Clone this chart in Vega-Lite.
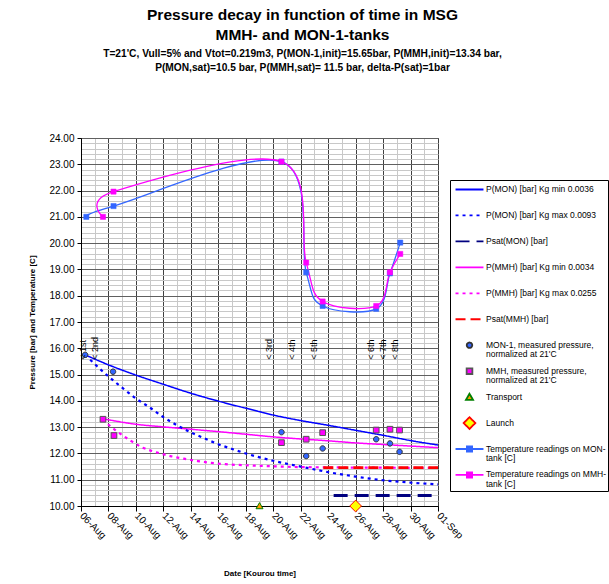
{
  "$schema": "https://vega.github.io/schema/vega-lite/v6.json",
  "width": 357,
  "height": 368,
  "autosize": "none",
  "padding": {"left": 81, "top": 138, "right": 171, "bottom": 78},
  "background": "white",
  "config": {
    "font": "Liberation Sans",
    "view": {"stroke": "#303030", "strokeWidth": 1},
    "axis": {"labelFont": "Liberation Sans", "titleFont": "Liberation Sans", "labelColor": "#000", "titleColor": "#000", "domainColor": "#000", "labelFontSize": 10}
  },
  "title": {
    "text": ["Pressure decay in function of time in MSG", "MMH- and MON-1-tanks"],
    "subtitle": ["T=21'C, Vull=5% and Vtot=0.219m3, P(MON-1,init)=15.65bar, P(MMH,init)=13.34 bar,", "P(MON,sat)=10.5 bar, P(MMH,sat)= 11.5 bar, delta-P(sat)=1bar"],
    "font": "Liberation Sans", "fontSize": 15.5, "fontWeight": "bold", "lineHeight": 20.5, "color": "#000",
    "subtitleFont": "Liberation Sans", "subtitleFontSize": 10.2, "subtitleFontWeight": "bold", "subtitleLineHeight": 14, "subtitleColor": "#000", "subtitlePadding": 5,
    "anchor": "middle", "dx": 43, "offset": 60
  },
  "datasets": {
    "pressure": [
      {"series": "P(MON) [bar] Kg min 0.0036", "date": "2002-08-06T07:12", "value": 15.75},
      {"series": "P(MON) [bar] Kg min 0.0036", "date": "2002-08-08T00:00", "value": 15.37},
      {"series": "P(MON) [bar] Kg min 0.0036", "date": "2002-08-10T00:00", "value": 14.98},
      {"series": "P(MON) [bar] Kg min 0.0036", "date": "2002-08-12T00:00", "value": 14.63},
      {"series": "P(MON) [bar] Kg min 0.0036", "date": "2002-08-14T00:00", "value": 14.29},
      {"series": "P(MON) [bar] Kg min 0.0036", "date": "2002-08-16T00:00", "value": 13.99},
      {"series": "P(MON) [bar] Kg min 0.0036", "date": "2002-08-18T00:00", "value": 13.72},
      {"series": "P(MON) [bar] Kg min 0.0036", "date": "2002-08-20T00:00", "value": 13.46},
      {"series": "P(MON) [bar] Kg min 0.0036", "date": "2002-08-22T00:00", "value": 13.25},
      {"series": "P(MON) [bar] Kg min 0.0036", "date": "2002-08-24T00:00", "value": 13.07},
      {"series": "P(MON) [bar] Kg min 0.0036", "date": "2002-08-26T00:00", "value": 12.88},
      {"series": "P(MON) [bar] Kg min 0.0036", "date": "2002-08-28T00:00", "value": 12.69},
      {"series": "P(MON) [bar] Kg min 0.0036", "date": "2002-08-30T00:00", "value": 12.49},
      {"series": "P(MON) [bar] Kg min 0.0036", "date": "2002-09-01T00:00", "value": 12.32},
      {"series": "P(MON) [bar] Kg max 0.0093", "date": "2002-08-06T07:12", "value": 15.75},
      {"series": "P(MON) [bar] Kg max 0.0093", "date": "2002-08-07T00:00", "value": 15.4},
      {"series": "P(MON) [bar] Kg max 0.0093", "date": "2002-08-08T00:00", "value": 14.93},
      {"series": "P(MON) [bar] Kg max 0.0093", "date": "2002-08-09T00:00", "value": 14.5},
      {"series": "P(MON) [bar] Kg max 0.0093", "date": "2002-08-10T00:00", "value": 14.09},
      {"series": "P(MON) [bar] Kg max 0.0093", "date": "2002-08-11T00:00", "value": 13.75},
      {"series": "P(MON) [bar] Kg max 0.0093", "date": "2002-08-12T00:00", "value": 13.38},
      {"series": "P(MON) [bar] Kg max 0.0093", "date": "2002-08-13T00:00", "value": 13.07},
      {"series": "P(MON) [bar] Kg max 0.0093", "date": "2002-08-14T00:00", "value": 12.8},
      {"series": "P(MON) [bar] Kg max 0.0093", "date": "2002-08-15T00:00", "value": 12.57},
      {"series": "P(MON) [bar] Kg max 0.0093", "date": "2002-08-16T00:00", "value": 12.35},
      {"series": "P(MON) [bar] Kg max 0.0093", "date": "2002-08-17T00:00", "value": 12.17},
      {"series": "P(MON) [bar] Kg max 0.0093", "date": "2002-08-18T00:00", "value": 12.0},
      {"series": "P(MON) [bar] Kg max 0.0093", "date": "2002-08-20T00:00", "value": 11.72},
      {"series": "P(MON) [bar] Kg max 0.0093", "date": "2002-08-22T00:00", "value": 11.5},
      {"series": "P(MON) [bar] Kg max 0.0093", "date": "2002-08-24T00:00", "value": 11.29},
      {"series": "P(MON) [bar] Kg max 0.0093", "date": "2002-08-26T00:00", "value": 11.12},
      {"series": "P(MON) [bar] Kg max 0.0093", "date": "2002-08-28T00:00", "value": 10.98},
      {"series": "P(MON) [bar] Kg max 0.0093", "date": "2002-08-30T00:00", "value": 10.89},
      {"series": "P(MON) [bar] Kg max 0.0093", "date": "2002-09-01T00:00", "value": 10.82},
      {"series": "Psat(MON) [bar]", "date": "2002-08-24T09:36", "value": 10.4},
      {"series": "Psat(MON) [bar]", "date": "2002-09-01T00:00", "value": 10.4},
      {"series": "P(MMH) [bar] Kg min 0.0034", "date": "2002-08-07T14:24", "value": 13.32},
      {"series": "P(MMH) [bar] Kg min 0.0034", "date": "2002-08-10T00:00", "value": 13.11},
      {"series": "P(MMH) [bar] Kg min 0.0034", "date": "2002-08-12T00:00", "value": 13.01},
      {"series": "P(MMH) [bar] Kg min 0.0034", "date": "2002-08-14T00:00", "value": 12.92},
      {"series": "P(MMH) [bar] Kg min 0.0034", "date": "2002-08-16T00:00", "value": 12.83},
      {"series": "P(MMH) [bar] Kg min 0.0034", "date": "2002-08-18T00:00", "value": 12.73},
      {"series": "P(MMH) [bar] Kg min 0.0034", "date": "2002-08-20T00:00", "value": 12.63},
      {"series": "P(MMH) [bar] Kg min 0.0034", "date": "2002-08-22T00:00", "value": 12.55},
      {"series": "P(MMH) [bar] Kg min 0.0034", "date": "2002-08-24T00:00", "value": 12.48},
      {"series": "P(MMH) [bar] Kg min 0.0034", "date": "2002-08-26T00:00", "value": 12.4},
      {"series": "P(MMH) [bar] Kg min 0.0034", "date": "2002-08-28T00:00", "value": 12.34},
      {"series": "P(MMH) [bar] Kg min 0.0034", "date": "2002-08-30T00:00", "value": 12.28},
      {"series": "P(MMH) [bar] Kg min 0.0034", "date": "2002-09-01T00:00", "value": 12.22},
      {"series": "P(MMH) [bar] Kg max 0.0255", "date": "2002-08-07T14:24", "value": 13.3},
      {"series": "P(MMH) [bar] Kg max 0.0255", "date": "2002-08-08T02:24", "value": 13.05},
      {"series": "P(MMH) [bar] Kg max 0.0255", "date": "2002-08-08T14:24", "value": 12.85},
      {"series": "P(MMH) [bar] Kg max 0.0255", "date": "2002-08-09T14:24", "value": 12.49},
      {"series": "P(MMH) [bar] Kg max 0.0255", "date": "2002-08-10T12:00", "value": 12.22},
      {"series": "P(MMH) [bar] Kg max 0.0255", "date": "2002-08-11T12:00", "value": 12.04},
      {"series": "P(MMH) [bar] Kg max 0.0255", "date": "2002-08-12T12:00", "value": 11.9},
      {"series": "P(MMH) [bar] Kg max 0.0255", "date": "2002-08-13T12:00", "value": 11.8},
      {"series": "P(MMH) [bar] Kg max 0.0255", "date": "2002-08-14T12:00", "value": 11.71},
      {"series": "P(MMH) [bar] Kg max 0.0255", "date": "2002-08-15T12:00", "value": 11.64},
      {"series": "P(MMH) [bar] Kg max 0.0255", "date": "2002-08-16T12:00", "value": 11.59},
      {"series": "P(MMH) [bar] Kg max 0.0255", "date": "2002-08-18T00:00", "value": 11.55},
      {"series": "P(MMH) [bar] Kg max 0.0255", "date": "2002-08-20T00:00", "value": 11.51},
      {"series": "P(MMH) [bar] Kg max 0.0255", "date": "2002-08-22T00:00", "value": 11.48},
      {"series": "P(MMH) [bar] Kg max 0.0255", "date": "2002-08-24T00:00", "value": 11.47},
      {"series": "P(MMH) [bar] Kg max 0.0255", "date": "2002-08-26T00:00", "value": 11.46},
      {"series": "P(MMH) [bar] Kg max 0.0255", "date": "2002-08-28T00:00", "value": 11.46},
      {"series": "P(MMH) [bar] Kg max 0.0255", "date": "2002-08-30T00:00", "value": 11.45},
      {"series": "P(MMH) [bar] Kg max 0.0255", "date": "2002-09-01T00:00", "value": 11.45},
      {"series": "Psat(MMH) [bar]", "date": "2002-08-23T15:36", "value": 11.46},
      {"series": "Psat(MMH) [bar]", "date": "2002-09-01T00:00", "value": 11.46}
    ],
    "temps": [
      {"series": "Temperature readings on MON-|tank [C]", "date": "2002-08-06T09:20", "value": 21.0},
      {"series": "Temperature readings on MON-|tank [C]", "date": "2002-08-08T08:50", "value": 21.41},
      {"series": "Temperature readings on MON-|tank [C]", "date": "2002-08-20T14:24", "value": 23.1},
      {"series": "Temperature readings on MON-|tank [C]", "date": "2002-08-22T09:36", "value": 18.89},
      {"series": "Temperature readings on MON-|tank [C]", "date": "2002-08-23T14:24", "value": 17.61},
      {"series": "Temperature readings on MON-|tank [C]", "date": "2002-08-27T12:00", "value": 17.5},
      {"series": "Temperature readings on MON-|tank [C]", "date": "2002-08-28T12:00", "value": 18.85},
      {"series": "Temperature readings on MON-|tank [C]", "date": "2002-08-29T06:00", "value": 20.02},
      {"series": "Temperature readings on MMH-|tank [C]", "date": "2002-08-07T14:24", "value": 21.0},
      {"series": "Temperature readings on MMH-|tank [C]", "date": "2002-08-08T08:50", "value": 21.96},
      {"series": "Temperature readings on MMH-|tank [C]", "date": "2002-08-20T14:24", "value": 23.1},
      {"series": "Temperature readings on MMH-|tank [C]", "date": "2002-08-22T09:36", "value": 19.26},
      {"series": "Temperature readings on MMH-|tank [C]", "date": "2002-08-23T14:24", "value": 17.78},
      {"series": "Temperature readings on MMH-|tank [C]", "date": "2002-08-27T12:00", "value": 17.61},
      {"series": "Temperature readings on MMH-|tank [C]", "date": "2002-08-28T12:00", "value": 18.89},
      {"series": "Temperature readings on MMH-|tank [C]", "date": "2002-08-29T06:00", "value": 19.59}
    ],
    "points": [
      {"series": "MON-1, measured pressure,|normalized at 21'C", "date": "2002-08-06T07:12", "value": 15.75},
      {"series": "MON-1, measured pressure,|normalized at 21'C", "date": "2002-08-08T08:00", "value": 15.11},
      {"series": "MON-1, measured pressure,|normalized at 21'C", "date": "2002-08-20T14:24", "value": 12.81},
      {"series": "MON-1, measured pressure,|normalized at 21'C", "date": "2002-08-22T09:36", "value": 11.9},
      {"series": "MON-1, measured pressure,|normalized at 21'C", "date": "2002-08-23T14:24", "value": 12.19},
      {"series": "MON-1, measured pressure,|normalized at 21'C", "date": "2002-08-27T12:00", "value": 12.54},
      {"series": "MON-1, measured pressure,|normalized at 21'C", "date": "2002-08-28T12:00", "value": 12.38},
      {"series": "MON-1, measured pressure,|normalized at 21'C", "date": "2002-08-29T04:48", "value": 12.06},
      {"series": "MMH, measured pressure,|normalized at 21'C", "date": "2002-08-07T14:24", "value": 13.3},
      {"series": "MMH, measured pressure,|normalized at 21'C", "date": "2002-08-08T09:36", "value": 12.68},
      {"series": "MMH, measured pressure,|normalized at 21'C", "date": "2002-08-20T14:24", "value": 12.41},
      {"series": "MMH, measured pressure,|normalized at 21'C", "date": "2002-08-22T09:36", "value": 12.54},
      {"series": "MMH, measured pressure,|normalized at 21'C", "date": "2002-08-23T14:24", "value": 12.79},
      {"series": "MMH, measured pressure,|normalized at 21'C", "date": "2002-08-27T12:00", "value": 12.89},
      {"series": "MMH, measured pressure,|normalized at 21'C", "date": "2002-08-28T12:00", "value": 12.92},
      {"series": "MMH, measured pressure,|normalized at 21'C", "date": "2002-08-29T04:48", "value": 12.89},
      {"series": "Transport", "date": "2002-08-19T00:00", "value": 10.0},
      {"series": "Launch", "date": "2002-08-26T00:00", "value": 10.0}
    ],
    "notes": [
      {"label": "< 1st", "date": "2002-08-06T04:00", "value": 15.56},
      {"label": "< 2nd", "date": "2002-08-07T01:00", "value": 15.56},
      {"label": "< 3rd", "date": "2002-08-19T16:00", "value": 15.56},
      {"label": "< 4th", "date": "2002-08-21T09:36", "value": 15.56},
      {"label": "< 5th", "date": "2002-08-23T00:00", "value": 15.56},
      {"label": "< 6th", "date": "2002-08-27T03:22", "value": 15.56},
      {"label": "< 7th", "date": "2002-08-28T00:00", "value": 15.56},
      {"label": "< 8th", "date": "2002-08-28T21:36", "value": 15.56}
    ]
  },
  "encoding": {
    "x": {
      "field": "date", "type": "temporal",
      "scale": {"domain": [{"year": 2002, "month": 8, "date": 6}, {"year": 2002, "month": 9, "date": 1}], "nice": false},
      "axis": {
        "title": "Date [Kourou time]", "titleFontSize": 8, "titleFontWeight": "bold", "titlePadding": 29,
        "tickCount": {"interval": "day", "step": 1},
        "labelExpr": "round((datum.value - datetime(2002,7,6))/86400000) % 2 === 0 ? timeFormat(datum.value, '%d-%b') : ''",
        "labelAngle": 45, "labelAlign": "left", "labelBaseline": "middle", "labelPadding": 3, "labelFontSize": 10,
        "labelOverlap": false, "labelBound": false, "labelFlush": false,
        "grid": true,
        "gridColor": {"condition": {"test": "round((datum.value - datetime(2002,7,6))/86400000) % 2 === 0", "value": "#404040"}, "value": "#c8c8c8"},
        "tickColor": {"condition": {"test": "round((datum.value - datetime(2002,7,6))/86400000) % 2 === 0", "value": "#000000"}, "value": "transparent"},
        "tickSize": 5
      }
    },
    "y": {
      "field": "value", "type": "quantitative",
      "scale": {"domain": [10, 24], "nice": false, "zero": false},
      "axis": {
        "title": "Pressure [bar] and Temperature [C]", "titleFontSize": 8, "titleFontWeight": "bold", "titlePadding": 12,
        "tickCount": 70,
        "labelExpr": "abs(datum.value - round(datum.value)) < 0.001 ? format(datum.value, '.2f') : ''",
        "labelOverlap": false, "labelBound": false, "labelFlush": false, "labelPadding": 3, "labelFontSize": 10,
        "grid": true,
        "gridColor": {"condition": {"test": "abs(datum.value - round(datum.value)) < 0.001", "value": "#606060"}, "value": "#c8c8c8"},
        "tickColor": {"condition": {"test": "abs(datum.value - round(datum.value)) < 0.001", "value": "#000000"}, "value": "transparent"},
        "tickSize": 4
      }
    }
  },
  "layer": [
    {
      "data": {"name": "pressure"},
      "transform": [{"filter": {"field": "series", "oneOf": ["P(MON) [bar] Kg min 0.0036", "P(MMH) [bar] Kg min 0.0034"]}}],
      "mark": {"type": "line", "interpolate": "monotone", "strokeWidth": 1.5},
      "encoding": {
        "stroke": {
          "field": "series", "type": "nominal",
          "scale": {
            "domain": ["P(MON) [bar] Kg min 0.0036", "P(MON) [bar] Kg max 0.0093", "Psat(MON) [bar]", "P(MMH) [bar] Kg min 0.0034", "P(MMH) [bar] Kg max 0.0255", "Psat(MMH) [bar]", "MON-1, measured pressure,|normalized at 21'C", "MMH, measured pressure,|normalized at 21'C", "Transport", "Launch", "Temperature readings on MON-|tank [C]", "Temperature readings on MMH-|tank [C]"],
            "range": ["#0000FF", "#0000FF", "#000080", "#FF00FF", "#FF00FF", "#FF0000", "#333333", "#555555", "#008000", "#FF0000", "#3366FF", "#FF00FF"]
          },
          "legend": {
            "orient": "none", "legendX": 369, "legendY": 42, "title": null, "direction": "vertical", "columns": 1,
            "padding": 2, "strokeColor": "#000000", "fillColor": "#ffffff",
            "symbolSize": 169, "symbolStrokeWidth": 1.8, "symbolOffset": 10,
            "labelFont": "Liberation Sans", "labelFontSize": 8.5, "labelColor": "#000000", "labelLimit": 200, "labelOffset": 9,
            "labelBaseline": "top", "rowPadding": 2.95, "gridAlign": "all",
            "labelExpr": "split(datum.label, '|')",
            "encode": {
              "symbols": {"update": {
                "fill": {"value": {"expr": "scale('fill', datum.value)"}},
                "stroke": {"value": {"expr": "scale('stroke', datum.value)"}},
                "shape": {"value": {"expr": "scale('shape', datum.value)"}},
                "strokeDash": {"value": {"expr": "scale('strokeDash', datum.value)"}},
                "opacity": {"value": 1}
              }},
              "labels": {"update": {"dy": {"value": -4.5}, "lineHeight": {"value": 9.5}}}
            }
          }
        },
        "strokeDash": {
          "field": "series", "type": "nominal", "legend": null,
          "scale": {
            "domain": ["P(MON) [bar] Kg min 0.0036", "P(MON) [bar] Kg max 0.0093", "Psat(MON) [bar]", "P(MMH) [bar] Kg min 0.0034", "P(MMH) [bar] Kg max 0.0255", "Psat(MMH) [bar]", "MON-1, measured pressure,|normalized at 21'C", "MMH, measured pressure,|normalized at 21'C", "Transport", "Launch", "Temperature readings on MON-|tank [C]", "Temperature readings on MMH-|tank [C]"],
            "range": [[1, 0], [3, 4], [14, 7], [1, 0], [3, 4], [10, 5], [1, 0], [1, 0], [1, 0], [1, 0], [1, 0], [1, 0]]
          }
        }
      }
    },
    {
      "data": {"name": "pressure"},
      "transform": [{"filter": {"field": "series", "oneOf": ["P(MON) [bar] Kg max 0.0093", "P(MMH) [bar] Kg max 0.0255"]}}],
      "mark": {"type": "line", "interpolate": "monotone", "strokeWidth": 2.2},
      "encoding": {
        "stroke": {"field": "series", "type": "nominal"},
        "strokeDash": {"field": "series", "type": "nominal", "legend": null}
      }
    },
    {
      "data": {"name": "pressure"},
      "transform": [{"filter": {"field": "series", "oneOf": ["Psat(MON) [bar]", "Psat(MMH) [bar]"]}}],
      "mark": {"type": "line", "strokeWidth": 2.8},
      "encoding": {
        "stroke": {"field": "series", "type": "nominal"},
        "strokeDash": {"field": "series", "type": "nominal", "legend": null}
      }
    },
    {
      "data": {"name": "temps"},
      "mark": {"type": "line", "interpolate": "cardinal", "tension": 0, "strokeWidth": 1.3},
      "encoding": {
        "stroke": {"field": "series", "type": "nominal"}
      }
    },
    {
      "data": {"name": "temps"},
      "mark": {"type": "point", "shape": "M-0.4,-0.4H0.4V0.4H-0.4Z", "size": 169, "filled": true, "opacity": 1, "strokeWidth": 0.5},
      "encoding": {
        "stroke": {"field": "series", "type": "nominal"},
        "fill": {
          "field": "series", "type": "nominal", "legend": null,
          "scale": {
            "domain": ["P(MON) [bar] Kg min 0.0036", "P(MON) [bar] Kg max 0.0093", "Psat(MON) [bar]", "P(MMH) [bar] Kg min 0.0034", "P(MMH) [bar] Kg max 0.0255", "Psat(MMH) [bar]", "MON-1, measured pressure,|normalized at 21'C", "MMH, measured pressure,|normalized at 21'C", "Transport", "Launch", "Temperature readings on MON-|tank [C]", "Temperature readings on MMH-|tank [C]"],
            "range": ["transparent", "transparent", "transparent", "transparent", "transparent", "transparent", "#3366FF", "#FF00FF", "#FF9900", "#FFFF00", "#3366FF", "#FF00FF"]
          }
        }
      }
    },
    {
      "data": {"name": "points"},
      "mark": {"type": "point", "size": 169, "filled": true, "opacity": 1, "strokeWidth": 1},
      "encoding": {
        "stroke": {"field": "series", "type": "nominal"},
        "fill": {"field": "series", "type": "nominal", "legend": null},
        "shape": {
          "field": "series", "type": "nominal", "legend": null,
          "scale": {
            "domain": ["P(MON) [bar] Kg min 0.0036", "P(MON) [bar] Kg max 0.0093", "Psat(MON) [bar]", "P(MMH) [bar] Kg min 0.0034", "P(MMH) [bar] Kg max 0.0255", "Psat(MMH) [bar]", "MON-1, measured pressure,|normalized at 21'C", "MMH, measured pressure,|normalized at 21'C", "Transport", "Launch", "Temperature readings on MON-|tank [C]", "Temperature readings on MMH-|tank [C]"],
            "range": ["M-2.15,0H2.15", "M-2.15,0H2.15", "M-2.15,0H2.15", "M-2.15,0H2.15", "M-2.15,0H2.15", "M-2.15,0H2.15",
              "M0.42,0A0.42,0.42,0,1,1,-0.42,0A0.42,0.42,0,1,1,0.42,0Z",
              "M-0.44,-0.44H0.44V0.44H-0.44Z",
              "M0,-0.52L0.54,0.42H-0.54Z",
              "M0,-0.9L0.9,0L0,0.9L-0.9,0Z",
              "M-2.15,0H2.15M-0.4,-0.4H0.4V0.4H-0.4Z",
              "M-2.15,0H2.15M-0.4,-0.4H0.4V0.4H-0.4Z"]
          }
        }
      }
    },
    {
      "data": {"name": "notes"},
      "mark": {"type": "text", "angle": 270, "align": "left", "baseline": "middle", "fontSize": 9, "font": "Liberation Sans", "color": "#000000"},
      "encoding": {"text": {"field": "label", "type": "nominal"}}
    }
  ]
}
